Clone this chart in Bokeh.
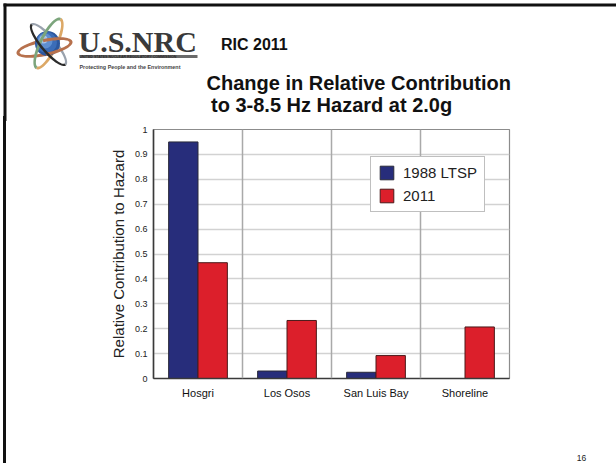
import math
from bokeh.plotting import figure
from bokeh.layouts import column, row
from bokeh.models import (ColumnDataSource, FactorRange, Range1d, FixedTicker, Span, Div)
from bokeh.core.properties import value
from bokeh.transform import dodge
from bokeh.embed import file_html
from bokeh.resources import INLINE

# ---------------- data ----------------
categories = ["Hosgri", "Los Osos", "San Luis Bay", "Shoreline"]
ltsp_1988 = [0.95, 0.03, 0.025, 0.0]
values_2011 = [0.465, 0.233, 0.092, 0.207]
series_names = ["1988 LTSP", "2011"]
y_ticks = [0, 0.1, 0.2, 0.3, 0.4, 0.5, 0.6, 0.7, 0.8, 0.9, 1]
y_tick_labels = ["0", "0.1", "0.2", "0.3", "0.4", "0.5", "0.6", "0.7", "0.8", "0.9", "1"]
title_lines = ["Change in Relative Contribution", "to 3-8.5 Hz Hazard at 2.0g"]
y_axis_title = "Relative Contribution to Hazard"
header_text = "RIC 2011"
logo_text = "U.S.NRC"
logo_sub1 = "UNITED STATES NUCLEAR REGULATORY COMMISSION"
logo_sub2 = "Protecting People and the Environment"
page_number = "16"

# ---------------- style / layout ----------------
BLUE = "#272d7b"
RED = "#dc1f2b"
FONT = "Liberation Sans"
W, H = 616, 463
HDR = 121                 # header strip height
BODY = H - HDR
LEFT_W = 100
FL, FR, FT, FB = 153, 509, 129, 378   # chart frame edges (page pixels)
CH_W = (FR - LEFT_W) + 3
RIGHT_W = W - LEFT_W - CH_W


def deco_fig(w, h):
    f = figure(width=w, height=h, x_range=Range1d(0, w), y_range=Range1d(h, 0),
               output_backend="svg", toolbar_location=None, title=None,
               x_axis_location=None, y_axis_location=None, min_border=0,
               frame_align=False)
    f.xgrid.visible = False
    f.ygrid.visible = False
    f.outline_line_color = None
    f.background_fill_color = "white"
    f.border_fill_color = "white"
    return f


def txt(f, x, y, t, size, style="normal", color="#111111", font=FONT, align="left"):
    f.text(x=[x], y=[y], text=[t], text_font=value(font), text_font_size=size,
           text_font_style=style, text_color=color, text_align=align,
           text_baseline="middle")


# ---------------- header ----------------
hdr = deco_fig(W, HDR)
hdr.quad(left=[3, 3], right=[W, 6], top=[3, 3], bottom=[6, HDR], fill_color="#111111", line_alpha=0)


def band(f, cx, cy, a, b, ang, t0, t1, w, color, n=40):
    c, s = math.cos(math.radians(ang)), math.sin(math.radians(ang))
    outer, inner = [], []
    for k in range(n + 1):
        t = math.radians(t0 + (t1 - t0) * k / n)
        for (aa, bb, lst) in ((a + w / 2, b + w / 2, outer), (a - w / 2, b - w / 2, inner)):
            ex, ey = aa * math.cos(t), bb * math.sin(t)
            lst.append((cx + ex * c - ey * s, cy + ex * s + ey * c))
    pts = outer + inner[::-1]
    f.patch([q[0] for q in pts], [q[1] for q in pts], fill_color=color, line_alpha=0)


# logo orbits (back parts)
band(hdr, 44, 47, 27, 7, -12, 90, 270, 3.2, "#b7714d")
band(hdr, 48, 43, 27, 8, 116, 180, 360, 3.0, "#dca866")
band(hdr, 48, 44, 26, 7, 50, 180, 360, 2.6, "#9aa2ad")
# sphere
for (cx, cy, r, col) in ((47, 43, 12.5, "#2c579e"), (46, 42, 10.5, "#3b6db8"),
                         (44.5, 40.5, 7.5, "#5f8fd0"), (43, 39, 4, "#a6c3ea")):
    hdr.ellipse(x=[cx], y=[cy], width=2 * r, height=2 * r, fill_color=col, line_alpha=0)
# front parts
band(hdr, 44, 47, 27, 7, -12, -90, 90, 3.2, "#b7714d")
band(hdr, 48, 43, 27, 8, 116, 0, 180, 3.0, "#7ca57c")
band(hdr, 48, 44, 26, 7, 50, 0, 180, 2.6, "#2b2b2b")

txt(hdr, 78, 41, logo_text, "30px", "bold", "#3a3a3a", "Liberation Serif")
hdr.quad(left=[79], right=[197], top=[54.5], bottom=[57.5], fill_color="#6a6a6a", line_alpha=0)
txt(hdr, 79, 56, logo_sub1, "3.6px", "bold", "#2a2a2a")
txt(hdr, 79, 66.5, logo_sub2, "5.4px", "bold", "#444444")
txt(hdr, 220.5, 44, header_text, "16px", "bold")
txt(hdr, 206, 82.5, title_lines[0], "20px", "bold")
txt(hdr, 210.5, 104.5, title_lines[1], "20px", "bold")

# ---------------- left strip (border) ----------------
lft = Div(text='<div style="margin:-5px 0 0 3px;padding:0;width:3px;height:%dpx;background:#111111"></div>' % (BODY + 5),
          width=LEFT_W, height=BODY, margin=0)

# ---------------- right strip (page number) ----------------
rgt = deco_fig(RIGHT_W, BODY)
txt(rgt, 581 - (LEFT_W + CH_W), 457 - HDR, page_number, "8.5px", "normal", "#222222", align="center")

# ---------------- chart ----------------
src = ColumnDataSource(dict(cat=categories, a=ltsp_1988, b=values_2011))

p = figure(width=CH_W, height=BODY, x_range=FactorRange(factors=categories),
           y_range=Range1d(0, 1), output_backend="svg", toolbar_location=None, title=None,
           min_border_left=FL - LEFT_W, min_border_right=3,
           min_border_top=FT - HDR, min_border_bottom=H - FB, frame_align=False)
p.background_fill_color = "white"
p.border_fill_color = "white"
p.outline_line_color = "#8c8c8c"
p.outline_line_width = 1.2

bw = 0.33
p.vbar(x=dodge("cat", -bw / 2, range=p.x_range), top="a", width=bw, source=src,
       fill_color=BLUE, line_color="#2a2a3a", line_width=1, legend_label=series_names[0])
p.vbar(x=dodge("cat", bw / 2, range=p.x_range), top="b", width=bw, source=src,
       fill_color=RED, line_color="#4a1a1a", line_width=1, legend_label=series_names[1])

p.xgrid.visible = False
p.ygrid.ticker = FixedTicker(ticks=y_ticks)
p.ygrid.grid_line_color = "#d2d2d2"
p.ygrid.grid_line_width = 1.3
for i in range(1, len(categories)):
    p.add_layout(Span(location=i, dimension="height", line_color="#a9a9a9", line_width=1.5))

p.yaxis.ticker = FixedTicker(ticks=y_ticks)
p.yaxis.major_label_overrides = {str(t): lab for t, lab in zip(y_ticks, y_tick_labels)}
p.yaxis.major_tick_out = 0
p.yaxis.major_tick_in = 0
p.yaxis.minor_tick_out = 0
p.yaxis.minor_tick_in = 0
p.yaxis.major_label_standoff = 6
p.yaxis.major_label_text_font = FONT
p.yaxis.major_label_text_font_size = "9px"
p.yaxis.major_label_text_color = "#222222"
p.yaxis.axis_label = y_axis_title
p.yaxis.axis_label_text_font = FONT
p.yaxis.axis_label_text_font_style = "normal"
p.yaxis.axis_label_text_font_size = "15px"
p.yaxis.axis_label_text_color = "#222222"
p.yaxis.axis_label_standoff = 5

p.xaxis.major_tick_out = 0
p.xaxis.major_tick_in = 0
p.xaxis.major_label_standoff = 8
p.xaxis.major_label_text_font = FONT
p.xaxis.major_label_text_font_size = "11px"
p.xaxis.major_label_text_color = "#111111"
for ax in (p.xaxis[0], p.yaxis[0]):
    ax.axis_line_color = "#3a3a3a"
    ax.axis_line_width = 1.6

lg = p.legend[0]
lg.location = (370 - FL, FB - 212)
lg.border_line_color = "#7f7f7f"
lg.border_line_width = 1
lg.background_fill_color = "white"
lg.background_fill_alpha = 1
lg.padding = 7
lg.spacing = 6
lg.glyph_width = 17
lg.glyph_height = 17
lg.label_height = 17
lg.label_standoff = 8
lg.label_text_font = FONT
lg.label_text_font_size = "15px"
lg.label_text_color = "#222222"
lg.margin = 0

layout = column(hdr, row(lft, p, rgt, spacing=0), spacing=0)
open("out.html", "w").write(file_html(layout, INLINE))
